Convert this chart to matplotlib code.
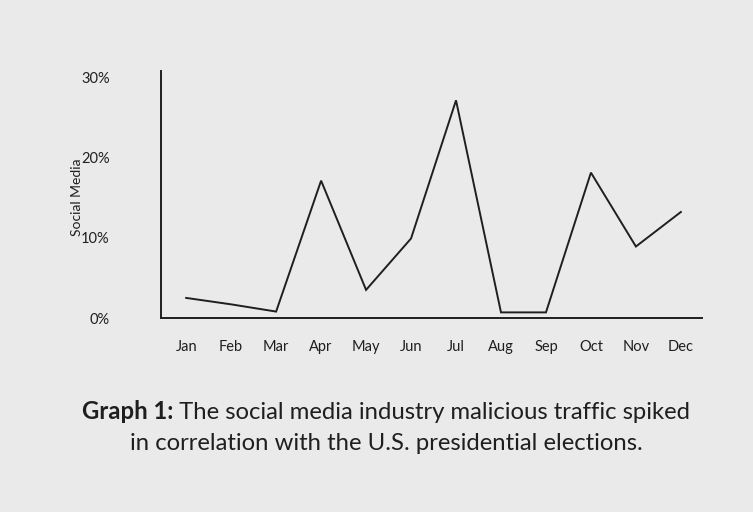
import matplotlib
matplotlib.use("Agg")
import matplotlib.pyplot as plt

months = ["Jan", "Feb", "Mar", "Apr", "May", "Jun", "Jul", "Aug", "Sep", "Oct", "Nov", "Dec"]
social_media = [2.5, 1.7, 0.8, 17.1, 3.5, 9.9, 27.1, 0.7, 0.7, 18.1, 8.9, 13.2]
y_ticks = [0, 10, 20, 30]
y_tick_labels = ["0%", "10%", "20%", "30%"]

bg = "#eaeaea"
ink = "#1f1f1f"
plt.rcParams["font.family"] = ["Lato", "DejaVu Sans"]

fig = plt.figure(figsize=(7.53, 5.12), dpi=100, facecolor=bg)
ax = fig.add_axes([0.2138, 0.3789, 0.7185, 0.4824])
ax.set_facecolor(bg)

x = list(range(len(months)))
ax.plot(x, social_media, color=ink, linewidth=1.4, solid_joinstyle="miter")

ax.set_xlim(-0.56, 11.47)
ax.set_ylim(0, 30.75)
ax.set_xticks(x)
ax.set_xticklabels(months)
ax.set_yticks(y_ticks)
ax.set_yticklabels(y_tick_labels)
ax.tick_params(length=0, labelsize=10.5, colors=ink)
ax.tick_params(axis="x", pad=16)
ax.tick_params(axis="y", pad=37)
for s in ["top", "right"]:
    ax.spines[s].set_visible(False)
for s in ["left", "bottom"]:
    ax.spines[s].set_color(ink)
    ax.spines[s].set_linewidth(1.4)
ax.set_ylabel("Social Media", fontsize=10, color=ink)
ax.yaxis.set_label_coords(-0.144, 0.49)

# caption: bold lead-in plus regular text, centred as one line
fig.canvas.draw()
r = fig.canvas.get_renderer()
cap_size = 17.2
t1 = fig.text(0, 0, "Graph 1:", fontsize=cap_size, fontweight="bold", color=ink)
t2 = fig.text(0, 0, " The social media industry malicious traffic spiked", fontsize=cap_size, color=ink)
w1 = t1.get_window_extent(r).width
w2 = t2.get_window_extent(r).width
W = fig.bbox.width
x0 = (386 - (w1 + w2) / 2) / W
y1 = 1 - 419 / 512
t1.set_position((x0, y1))
t2.set_position((x0 + w1 / W, y1))
fig.text(386 / W, 1 - 450 / 512, "in correlation with the U.S. presidential elections.",
         fontsize=cap_size, color=ink, ha="center")

fig.savefig("out.png", dpi=100, facecolor=bg)
